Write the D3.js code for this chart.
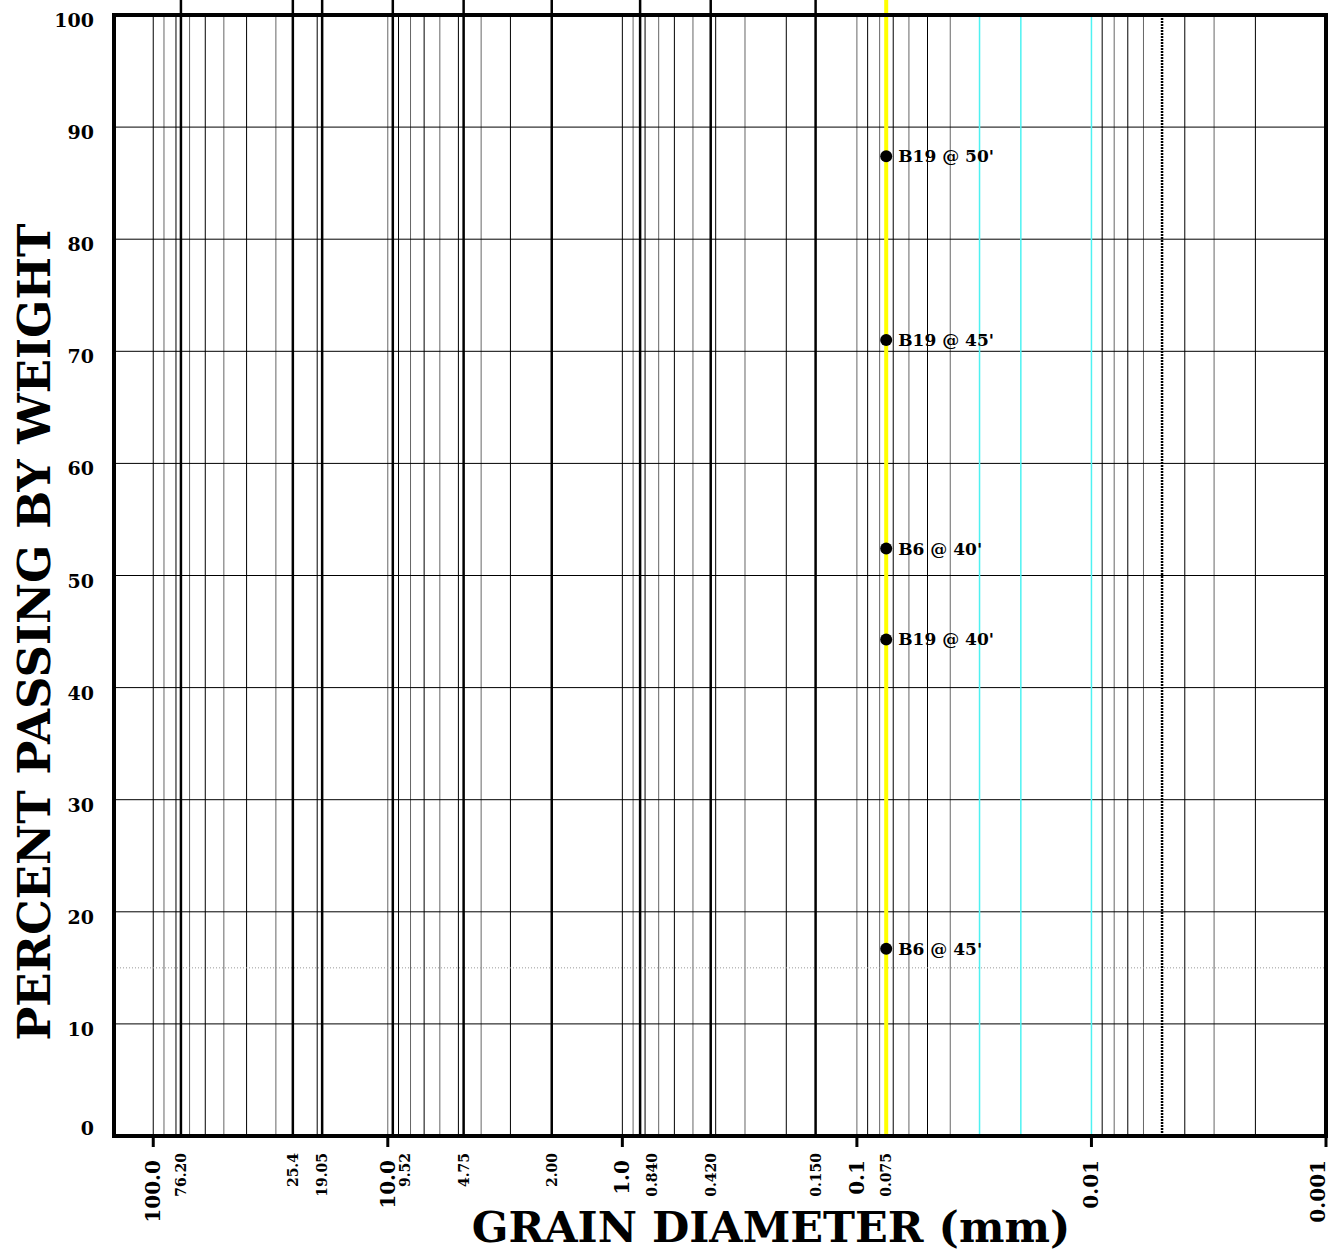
<!DOCTYPE html>
<html>
<head>
<meta charset="utf-8">
<script src="https://cdn.jsdelivr.net/npm/d3@7"></script>
<style>
body { margin: 0; background: #fff; }
svg { display: block; }
</style>
</head>
<body>
<div id="chart"></div>
<script>
// Decade ticks on the grain size axis (mm)
const decades = [100, 10, 1, 0.1, 0.01, 0.001];
const decadeLabels = ["100.0", "10.0", "1.0", "0.1", "0.01", "0.001"];

// Sieve openings (mm)
const sieves = [76.2, 25.4, 19.05, 9.52, 4.75, 2.0, 0.84, 0.42, 0.15, 0.075];
const sieveLabels = ["76.20", "25.4", "19.05", "9.52", "4.75", "2.00", "0.840", "0.420", "0.150", "0.075"];

// special vertical lines
const finesLine = 0.075;
const cyanLines = [0.03, 0.02, 0.01];
const clayLine = 0.005;

// percent axis
const percentTicks = [0, 10, 20, 30, 40, 50, 60, 70, 80, 90, 100];
const refPercent = 15;

// samples
const sampleNames = ["B19 @ 50'", "B19 @ 45'", "B6 @ 40'", "B19 @ 40'", "B6 @ 45'"];
const sampleSize = [0.075, 0.075, 0.075, 0.075, 0.075];
const samplePassing = [87.4, 71.0, 52.4, 44.3, 16.7];

const width = 1335;
const height = 1253;
const plotL = 114, plotR = 1326, plotT = 15, plotB = 1136;

const x = d3.scaleLog().domain([147, 0.001]).range([plotL, plotR]);
const y = d3.scaleLinear().domain([0, 100]).range([plotB, plotT]);

const svg = d3.select("#chart")
    .append("svg")
    .attr("width", width)
    .attr("height", height)
    .style("font-family", "'DejaVu Serif', serif")
    .style("font-weight", "bold");

// minor log grid (1..9 per decade)
const minor = [];
for (let d = -3; d <= 2; d++) {
    for (let k = 1; k <= 9; k++) {
        const v = +(k * Math.pow(10, d)).toPrecision(6);
        if (v > 147 || v < 0.001) continue;
        if (cyanLines.includes(v) || v === clayLine) continue;
        minor.push(v);
    }
}

svg.append("g")
    .selectAll("line")
    .data(minor)
    .join("line")
    .attr("x1", d => x(d)).attr("x2", d => x(d))
    .attr("y1", plotT).attr("y2", plotB)
    .attr("stroke", (d, i) => i % 2 ? "#000" : "#666")
    .attr("stroke-width", 1);

// horizontal grid
svg.append("g")
    .selectAll("line")
    .data(percentTicks.filter(d => d > 0 && d < 100))
    .join("line")
    .attr("x1", plotL).attr("x2", plotR)
    .attr("y1", d => y(d)).attr("y2", d => y(d))
    .attr("stroke", "#000")
    .attr("stroke-width", 1);

// 15% reference line
svg.append("line")
    .attr("x1", plotL).attr("x2", plotR)
    .attr("y1", y(refPercent)).attr("y2", y(refPercent))
    .attr("stroke", "#999")
    .attr("stroke-width", 1)
    .attr("stroke-dasharray", "1,2");

// cyan lines
svg.append("g")
    .selectAll("line")
    .data(cyanLines)
    .join("line")
    .attr("x1", d => x(d)).attr("x2", d => x(d))
    .attr("y1", plotT).attr("y2", plotB)
    .attr("stroke", "#4ef2f2")
    .attr("stroke-width", 1.5);

// clay boundary (dotted)
svg.append("line")
    .attr("x1", x(clayLine)).attr("x2", x(clayLine))
    .attr("y1", plotT).attr("y2", plotB)
    .attr("stroke", "#000")
    .attr("stroke-width", 2.5)
    .attr("stroke-dasharray", "2,1");

// sieve lines, run above the frame
svg.append("g")
    .selectAll("line")
    .data(sieves)
    .join("line")
    .attr("x1", d => x(d)).attr("x2", d => x(d))
    .attr("y1", 0).attr("y2", plotB)
    .attr("stroke", d => d === finesLine ? "#ffff00" : "#000")
    .attr("stroke-width", d => d === finesLine ? 4 : 2.5);

// frame
svg.append("rect")
    .attr("x", plotL).attr("y", plotT)
    .attr("width", plotR - plotL).attr("height", plotB - plotT)
    .attr("fill", "none")
    .attr("stroke", "#000")
    .attr("stroke-width", 4);

// decade ticks below axis
svg.append("g")
    .selectAll("line")
    .data(decades)
    .join("line")
    .attr("x1", d => x(d)).attr("x2", d => x(d))
    .attr("y1", plotB).attr("y2", plotB + 11)
    .attr("stroke", "#000")
    .attr("stroke-width", 3);

// decade labels (last one pulled in from the edge)
svg.append("g")
    .selectAll("text")
    .data(decades)
    .join("text")
    .attr("transform", d => `translate(${Math.min(x(d), width - 17)},1160) rotate(-90)`)
    .attr("text-anchor", "end")
    .attr("dominant-baseline", "central")
    .attr("font-size", 20)
    .text((d, i) => decadeLabels[i]);

// sieve labels (nudge off a decade label when too close)
svg.append("g")
    .selectAll("text")
    .data(sieves)
    .join("text")
    .attr("transform", d => {
        let px = x(d);
        const near = decades.some(v => Math.abs(x(v) - px) < 20);
        if (near) px += 12;
        return `translate(${px},1153) rotate(-90)`;
    })
    .attr("text-anchor", "end")
    .attr("dominant-baseline", "central")
    .attr("font-size", 14)
    .text((d, i) => sieveLabels[i]);

// y labels
svg.append("g")
    .selectAll("text")
    .data(percentTicks)
    .join("text")
    .attr("x", 94)
    .attr("y", d => Math.min(y(d) + 12, plotB - 1))
    .attr("text-anchor", "end")
    .attr("font-size", 19)
    .text(d => d);

// sample points
const pts = svg.append("g")
    .selectAll("g")
    .data(samplePassing)
    .join("g")
    .attr("transform", (d, i) => `translate(${x(sampleSize[i])},${y(d)})`);

pts.append("circle")
    .attr("r", 6)
    .attr("fill", "#000");

pts.append("text")
    .attr("x", 12)
    .attr("dominant-baseline", "central")
    .attr("font-size", 17)
    .text((d, i) => sampleNames[i]);

// axis titles
svg.append("text")
    .attr("x", 771)
    .attr("y", 1242)
    .attr("text-anchor", "middle")
    .attr("font-size", 43)
    .text("GRAIN DIAMETER (mm)");

svg.append("text")
    .attr("transform", "translate(50,632) rotate(-90)")
    .attr("text-anchor", "middle")
    .attr("font-size", 45)
    .text("PERCENT PASSING BY WEIGHT");
</script>
</body>
</html>
